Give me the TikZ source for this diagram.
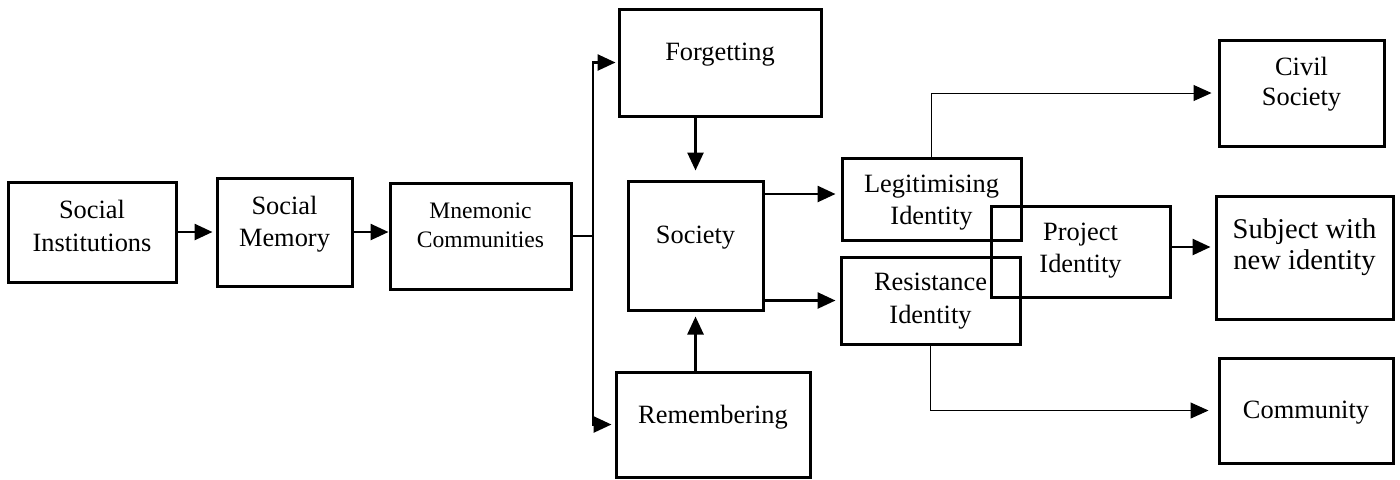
\documentclass[tikz,border=0pt]{standalone}
\usepackage{fontspec}
\setmainfont{Liberation Serif}
\usetikzlibrary{arrows.meta}

\newcommand{\boxtext}[2]{\raisebox{#1}[\height][\depth]{\begin{tabular}{@{}c@{}}#2\end{tabular}}}

\tikzset{
  box/.style={draw, line width=1.5pt, inner sep=0pt, font=\fontsize{13.2}{16.2}\selectfont},
  link/.style={line width=1.3pt},
  arr/.style={link, -{Triangle[length=9pt,width=8pt]}},
  thinarr/.style={line width=0.5pt, -{Triangle[length=9pt,width=8pt]}},
}

\begin{document}
\begin{tikzpicture}[x=0.5pt,y=-0.5pt]
\useasboundingbox (0,0) rectangle (1400,479);
% left chain
\node[box, minimum width=84pt, minimum height=50pt] (inst) at (92,232) {\boxtext{1.8pt}{Social\\Institutions}};
\node[box, minimum width=67.5pt, minimum height=54pt] (smem) at (284.5,232) {\boxtext{3.9pt}{Social\\Memory}};
\node[box, minimum width=90.5pt, minimum height=53pt, font=\fontsize{11.8}{14.5}\selectfont] (mnem) at (480.5,236) {\boxtext{4.5pt}{Mnemonic\\Communities}};
\coordinate (fork) at (593,236);
% middle
\node[box, minimum width=101pt, minimum height=53.5pt] (forg) at (720,62.5) {\boxtext{4pt}{Forgetting}};
\node[box, minimum width=67.5pt, minimum height=64.5pt] (soc) at (695.5,245.5) {\boxtext{4.4pt}{Society}};
\node[box, minimum width=97pt, minimum height=52.5pt] (rem) at (713,424.5) {\boxtext{3.9pt}{Remembering}};
% identities
\node[box, minimum width=89.5pt, minimum height=41pt] (legit) at (931.5,199) {\boxtext{-1.6pt}{Legitimising\\Identity}};
\node[box, minimum width=89.5pt, minimum height=43.5pt] (resist) at (930.5,300.5) {\boxtext{0pt}{Resistance\\Identity}};
\node[box, minimum width=89.5pt, minimum height=45.5pt] (proj) at (1080.5,251.5) {\boxtext{0.6pt}{Project\\Identity}};
% outcomes
\node[box, minimum width=82.5pt, minimum height=53pt, font=\fontsize{13.2}{15}\selectfont] (civil) at (1301.5,93) {\boxtext{4.3pt}{Civil\\Society}};
\node[box, minimum width=88.5pt, minimum height=61.5pt, font=\fontsize{14.3}{15.5}\selectfont] (subj) at (1304.5,257.5) {\boxtext{4.9pt}{Subject with\\new identity}};
\node[box, minimum width=87pt, minimum height=52.5pt] (comm) at (1306,410.5) {\boxtext{-0.6pt}{Community}};

% connectors
\draw[arr, shorten >=1.5pt] (inst.east) -- (inst.east -| smem.west);
\draw[arr] (smem.east) -- (smem.east -| mnem.west);
\draw[link] (mnem.east) -- (fork);
\draw[arr, shorten >=1pt] (fork) |- (forg.west);
\draw[arr, shorten >=1.5pt] (fork) |- (rem.west);
\draw[arr, shorten >=4.5pt] (soc.north |- forg.south) -- (soc.north);
\draw[arr, shorten >=2.5pt] (soc.south |- rem.north) -- (soc.south);
\draw[arr, shorten >=2.5pt] ([yshift=2.5pt]legit.west -| soc.east) -- ([yshift=2.5pt]legit.west);
\draw[arr, shorten >=2pt] (soc.east |- resist.west) -- (resist.west);
\draw[thinarr, shorten >=3pt] (legit.north) |- (civil.west);
\draw[arr, shorten >=2pt] ([yshift=2.25pt]proj.east) -- ([yshift=2.25pt]proj.east -| subj.west);
\draw[thinarr, shorten >=4.5pt] (resist.south) |- (comm.west);
\end{tikzpicture}
\end{document}
